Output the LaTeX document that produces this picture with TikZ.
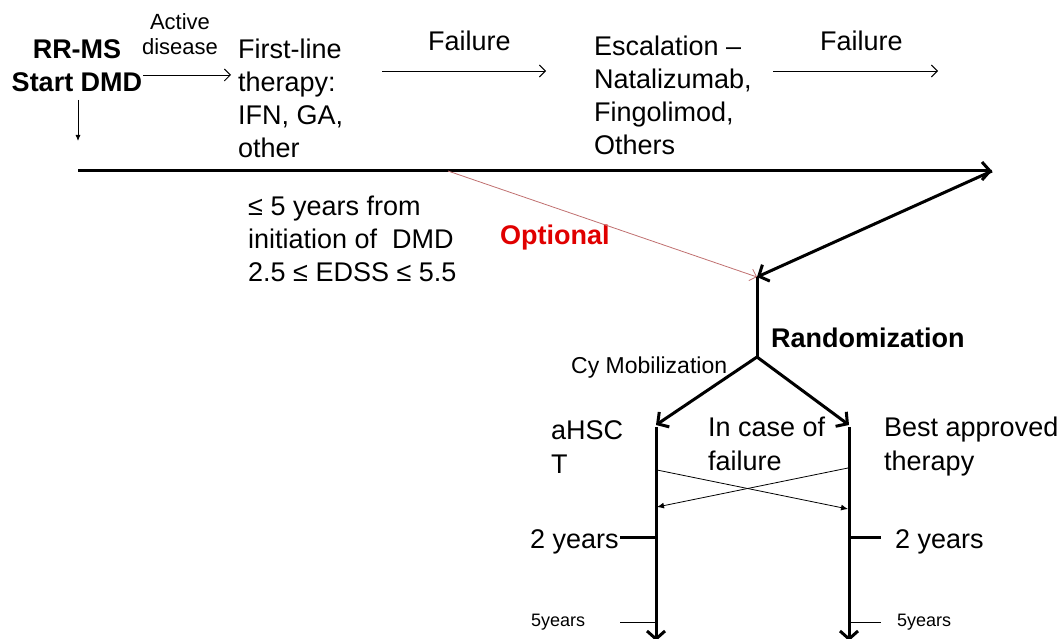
\documentclass[tikz,border=0pt]{standalone}
\usepackage{fontspec}
\setmainfont{Liberation Sans}
\usetikzlibrary{arrows.meta}
\definecolor{optred}{HTML}{E00000}
\definecolor{linered}{HTML}{C07070}
\begin{document}
\begin{tikzpicture}[x=1pt,y=-1pt,
  txt/.style={inner sep=0pt, anchor=base west, align=left, font=\fontsize{27}{33.3}\selectfont},
  btxt/.style={inner sep=0pt, anchor=base west, align=left, font=\fontsize{27}{33}\selectfont\bfseries},
  stxt/.style={inner sep=0pt, anchor=base west, align=center, font=\fontsize{22}{25}\selectfont},
  tiny/.style={inner sep=0pt, anchor=base west, font=\fontsize{18}{20}\selectfont},
  thinarr/.style={line width=0.9pt, -{Straight Barb[length=6pt,width=12pt]}},
  thickln/.style={line width=3pt},
  thickarr/.style={line width=3pt, -{Straight Barb[length=8pt,width=18pt,line width=3pt]}},
  redarr/.style={line width=0.8pt, draw=linered, -{Straight Barb[length=6pt,width=12pt]}},
  crossarr/.style={line width=0.8pt, -{Latex[length=7pt,width=6pt]}},
  tick/.style={line width=3pt},
  thintick/.style={line width=0.8pt}]
\useasboundingbox (0,0) rectangle (1061,639);
% texts (base anchor of a multi-line node = last line)
\node[btxt, align=center, anchor=base] (start) at (77,92) {RR-MS\\Start DMD};
\node[stxt, anchor=base] (active) at (180,55) {Active\\disease};
\node[txt] (first) at (238,158) {First-line\\therapy:\\IFN, GA,\\other};
\node[txt] (fail1) at (428,51) {Failure};
\node[txt] (esc) at (594,155) {Escalation --\\Natalizumab,\\Fingolimod,\\Others};
\node[txt] (fail2) at (820,51) {Failure};
\node[txt] (crit) at (248,282) {≤ 5 years from\\initiation of \ DMD\\2.5 ≤ EDSS ≤ 5.5};
\node[btxt, text=optred] (opt) at (500,245) {Optional};
\node[btxt] (rand) at (771,347) {Randomization};
\node[inner sep=0pt, anchor=base west, font=\fontsize{23}{26}\selectfont] (cy) at (571,373) {Cy Mobilization};
\node[txt] (ahsc) at (551,473) {aHSC\\T};
\node[txt] (incase) at (708,470) {In case of\\failure};
\node[txt] (best) at (884,470) {Best approved\\therapy};
\node[txt] (y2l) at (530,548) {2 years};
\node[txt] (y2r) at (895,548) {2 years};
\node[tiny] (y5l) at (531,626) {5years};
\node[tiny] (y5r) at (897,626) {5years};
% coordinates
\coordinate (a1s) at (143,75);
\coordinate (a1e) at (231,75);
\coordinate (d1s) at (78,100);
\coordinate (d1e) at (78,141);
\coordinate (f1s) at (382,71);
\coordinate (f1e) at (546,71);
\coordinate (f2s) at (773,71);
\coordinate (f2e) at (938,71);
\coordinate (L0) at (78,171);
\coordinate (L1) at (992,171);
\coordinate (O) at (448,171);
\coordinate (R) at (757,277);
\coordinate (M) at (757,357);
\coordinate (A) at (656,425);
\coordinate (B) at (849,425);
\coordinate (Ab) at (656,641);
\coordinate (Bb) at (849,641);
\coordinate (cl1) at (657,470);
\coordinate (cr1) at (848,509);
\coordinate (cr2) at (848,468);
\coordinate (cl2) at (657,507);
\coordinate (t2l) at (620,537);
\coordinate (t2lx) at (656,537);
\coordinate (t2r) at (849,537);
\coordinate (t2rx) at (881,537);
\coordinate (t5l) at (620,622);
\coordinate (t5lx) at (656,622);
\coordinate (t5r) at (849,622);
\coordinate (t5rx) at (881,622);
% connectors
\draw[thinarr] (a1s) -- (a1e);
\draw[line width=0.9pt, -{Latex[length=6pt,width=5pt]}] (d1s) -- (d1e);
\draw[thinarr] (f1s) -- (f1e);
\draw[thinarr] (f2s) -- (f2e);
\draw[thickarr] (L0) -- (L1);
\draw[thickarr] (L1) -- (R);
\draw[redarr] (O) -- (R);
\draw[thickln] (R) -- (M);
\draw[thickarr] (M) -- (A);
\draw[thickarr] (M) -- (B);
\draw[thickarr] ([yshift=-2pt]A) -- (Ab);
\draw[thickarr] ([yshift=-2pt]B) -- (Bb);
\draw[crossarr] (cl1) -- (cr1);
\draw[crossarr] (cr2) -- (cl2);
\draw[tick] (t2l) -- (t2lx);
\draw[tick] (t2r) -- (t2rx);
\draw[thintick] (t5l) -- (t5lx);
\draw[thintick] (t5r) -- (t5rx);
\end{tikzpicture}
\end{document}
